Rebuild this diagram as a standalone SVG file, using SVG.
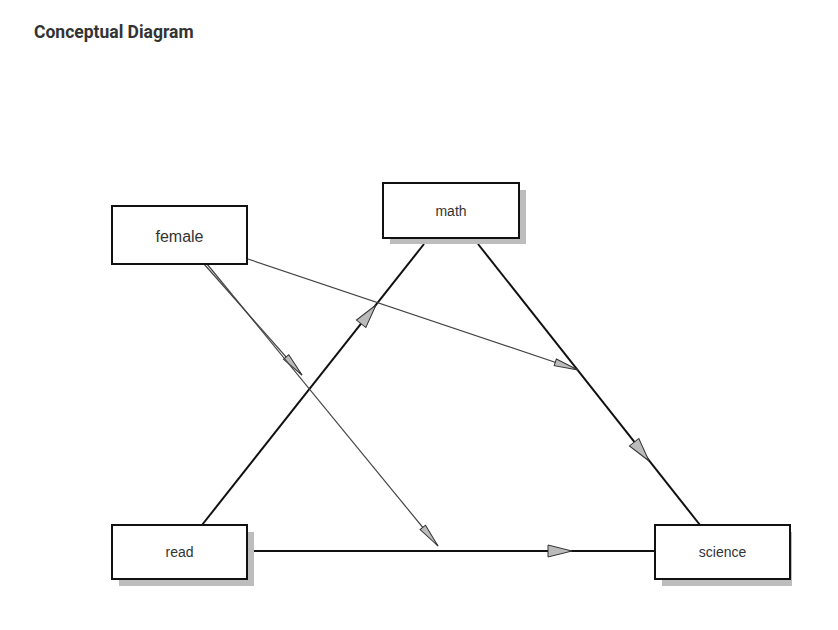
<svg xmlns="http://www.w3.org/2000/svg" xmlns:xlink="http://www.w3.org/1999/xlink" width="838" height="630" viewBox="0 0 838 630">
  <style>
    .title { font-family: Roboto, "Liberation Sans", sans-serif; font-weight: bold; font-size: 17.5px; fill: #333; }
    .box { fill: #fff; stroke: #111; stroke-width: 2; }
    .shadow { fill: #bdbdbd; }
    .label { font-family: "Liberation Sans", Arial, sans-serif; font-size: 14px; fill: #333; text-anchor: middle; dominant-baseline: central; }
    .big { font-size: 16px; }
    .path { stroke: #111; stroke-width: 2; fill: none; }
    .mod { stroke: #444; stroke-width: 1.2; fill: none; }
    .head { fill: #bbb; stroke: #333; stroke-width: 1; stroke-linejoin: miter; }
  </style>
  <defs>
    <!-- arrowheads pointing along +x with the tip at the origin -->
    <path id="headMain" class="head" d="M0,0 L-24,-6 L-24,6 Z"/>
    <path id="headMod" class="head" d="M0,0 L-24,-3.5 L-24,3.5 Z"/>
  </defs>

  <rect width="838" height="630" fill="#fff"/>
  <text class="title" x="34" y="38">Conceptual Diagram</text>

  <g id="connectors">
    <!-- read -> math -->
    <line class="path" x1="202" y1="525" x2="424" y2="244"/>
    <use xlink:href="#headMain" transform="translate(376,305) rotate(-51.7)"/>
    <!-- math -> science -->
    <line class="path" x1="478" y1="244" x2="700" y2="525"/>
    <use xlink:href="#headMain" transform="translate(649,461) rotate(51.7)"/>
    <!-- read -> science -->
    <line class="path" x1="254" y1="551" x2="655" y2="551"/>
    <use xlink:href="#headMain" transform="translate(572,551)"/>
    <!-- female moderating math -> science -->
    <line class="mod" x1="248" y1="259" x2="578" y2="370"/>
    <use xlink:href="#headMod" transform="translate(578,370) rotate(18.6)"/>
    <!-- female moderating read -> math -->
    <line class="mod" x1="204" y1="264" x2="302" y2="375"/>
    <use xlink:href="#headMod" transform="translate(302,375) rotate(48.6)"/>
    <!-- female moderating read -> science -->
    <line class="mod" x1="207" y1="264" x2="438" y2="546"/>
    <use xlink:href="#headMod" transform="translate(438,546) rotate(50.7)"/>
  </g>

  <g id="female">
    <rect class="box" x="112" y="206" width="135" height="58"/>
    <text class="label big" x="179.5" y="236">female</text>
  </g>

  <g id="math">
    <rect class="shadow" x="390" y="190" width="136" height="54"/>
    <rect class="box" x="383" y="183" width="136" height="55"/>
    <text class="label" x="451" y="211">math</text>
  </g>

  <g id="read">
    <rect class="shadow" x="119" y="532" width="135" height="54"/>
    <rect class="box" x="112" y="525" width="135" height="54"/>
    <text class="label" x="179.5" y="552">read</text>
  </g>

  <g id="science">
    <rect class="shadow" x="662" y="532" width="130" height="54"/>
    <rect class="box" x="655" y="525" width="135" height="54"/>
    <text class="label" x="722.5" y="552">science</text>
  </g>
</svg>
